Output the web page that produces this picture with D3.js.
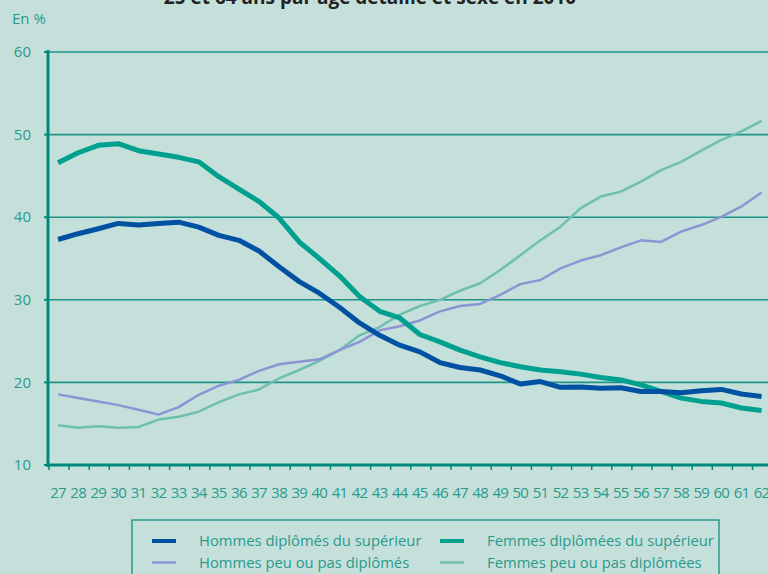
<!DOCTYPE html>
<html>
<head>
<meta charset="utf-8">
<script src="https://cdn.jsdelivr.net/npm/d3@7"></script>
<style>
  body { margin: 0; background: #c5e0db; }
  svg { display: block; font-family: "Open Sans", "DejaVu Sans", sans-serif; }
</style>
</head>
<body>
<svg id="plotSvg"></svg>
<script>
var ages = d3.range(27, 63);

var hommesSup = [37.3, 38.0, 38.6, 39.25, 39.05, 39.25, 39.4, 38.8, 37.8, 37.2, 35.9, 34.0,
  32.2, 30.8, 29.1, 27.2, 25.7, 24.5, 23.7, 22.4, 21.8, 21.5, 20.8, 19.8, 20.1, 19.4,
  19.45, 19.3, 19.35, 18.9, 18.9, 18.75, 19.0, 19.15, 18.6, 18.3];
var femmesSup = [46.6, 47.8, 48.7, 48.9, 48.05, 47.65, 47.25, 46.7, 44.9, 43.4, 41.9, 39.9,
  37.0, 35.0, 32.9, 30.4, 28.6, 27.8, 25.8, 24.9, 23.9, 23.1, 22.4, 21.9, 21.5, 21.3,
  21.0, 20.6, 20.3, 19.7, 18.9, 18.1, 17.7, 17.5, 16.9, 16.6];
var hommesPeu = [18.55, 18.1, 17.7, 17.25, 16.7, 16.1, 17.0, 18.5, 19.6, 20.3, 21.4, 22.2,
  22.5, 22.8, 23.9, 24.9, 26.3, 26.8, 27.5, 28.6, 29.25, 29.5, 30.6, 31.9, 32.4, 33.8,
  34.75, 35.4, 36.35, 37.2, 37.0, 38.25, 39.05, 40.05, 41.3, 43.0];
var femmesPeu = [14.8, 14.5, 14.7, 14.5, 14.6, 15.5, 15.85, 16.45, 17.6, 18.55, 19.15, 20.5,
  21.5, 22.6, 23.9, 25.7, 26.7, 28.2, 29.25, 30.0, 31.1, 32.0, 33.6, 35.4, 37.2, 38.85,
  41.1, 42.5, 43.1, 44.3, 45.7, 46.7, 48.05, 49.35, 50.4, 51.65];

var yTicks = [10, 20, 30, 40, 50, 60];
var title = "25 et 64 ans par âge détaillé et sexe en 2010";

var series = [
  { name: "Femmes peu ou pas diplômées", values: femmesPeu, color: "#6fbfb1", w: 2.5 },
  { name: "Hommes peu ou pas diplômés", values: hommesPeu, color: "#8c95d3", w: 2.5 },
  { name: "Femmes diplômées du supérieur", values: femmesSup, color: "#00a08f", w: 5 },
  { name: "Hommes diplômés du supérieur", values: hommesSup, color: "#0051a2", w: 5 }
];

var width = 768, height = 574;
var svg = d3.select("#plotSvg").attr("width", width).attr("height", height);
var textColor = "#2a9a8a";
var axisColor = "#00897a";

// title, cut by the top edge as in the original
svg.append("text")
  .attr("x", 370).attr("y", 4)
  .attr("text-anchor", "middle")
  .attr("font-size", 19).attr("font-weight", "bold")
  .attr("fill", "#222")
  .text(title);

svg.append("text")
  .attr("x", 12).attr("y", 24)
  .attr("font-size", 15).attr("fill", textColor)
  .text("En %");

var x = d3.scaleBand().domain(ages).range([48, 48 + 36 * 20.1]);
var y = d3.scaleLinear().domain([10, 60]).range([465, 52]);

// grid lines
svg.append("g").selectAll("line")
  .data(yTicks.slice(1))
  .enter().append("line")
  .attr("x1", 48).attr("x2", width)
  .attr("y1", function(d) { return y(d); })
  .attr("y2", function(d) { return y(d); })
  .attr("stroke", "#1f9484").attr("stroke-width", 1.6);

// y labels and tick marks
var yg = svg.append("g");
yg.selectAll("text").data(yTicks).enter().append("text")
  .attr("x", 31).attr("y", function(d) { return y(d); })
  .attr("dy", "0.35em").attr("text-anchor", "end")
  .attr("font-size", 15).attr("fill", textColor)
  .text(function(d) { return d; });
yg.selectAll("line").data(yTicks).enter().append("line")
  .attr("x1", 44).attr("x2", 48)
  .attr("y1", function(d) { return y(d); })
  .attr("y2", function(d) { return y(d); })
  .attr("stroke", axisColor).attr("stroke-width", 2);

// x axis
var xg = svg.append("g");
xg.selectAll("line.tk").data(ages).enter().append("line")
  .attr("class", "tk")
  .attr("x1", function(d) { return x(d) + 1; })
  .attr("x2", function(d) { return x(d) + 1; })
  .attr("y1", 465).attr("y2", 470)
  .attr("stroke", axisColor).attr("stroke-width", 1.5);
xg.selectAll("text").data(ages).enter().append("text")
  .attr("x", function(d) { return x(d) + x.bandwidth() / 2; })
  .attr("y", 498)
  .attr("text-anchor", "middle")
  .attr("font-size", 15).attr("letter-spacing", -0.8).attr("fill", textColor)
  .text(function(d) { return d; });

svg.append("line")
  .attr("x1", 46).attr("x2", width)
  .attr("y1", 465).attr("y2", 465)
  .attr("stroke", axisColor).attr("stroke-width", 3);
svg.append("line")
  .attr("x1", 48).attr("x2", 48)
  .attr("y1", 50).attr("y2", 467)
  .attr("stroke", axisColor).attr("stroke-width", 3);

var line = d3.line()
  .x(function(d, i) { return x(ages[i]) + x.bandwidth() / 2; })
  .y(function(d) { return y(d); });

svg.append("g").selectAll("path")
  .data(series)
  .enter().append("path")
  .attr("d", function(d) { return line(d.values); })
  .attr("fill", "none")
  .attr("stroke", function(d) { return d.color; })
  .attr("stroke-width", function(d) { return d.w; })
  .attr("stroke-linejoin", "round");

// legend
svg.append("rect")
  .attr("x", 132).attr("y", 520)
  .attr("width", 587).attr("height", 70)
  .attr("fill", "none")
  .attr("stroke", axisColor).attr("stroke-width", 1.2);

var legendItems = [series[3], series[2], series[1], series[0]];
var legend = svg.append("g").selectAll("g")
  .data(legendItems)
  .enter().append("g")
  .attr("transform", function(d, i) {
    return "translate(" + (i % 2 === 0 ? 152 : 440) + "," + (i < 2 ? 541 : 562.5) + ")";
  });
legend.append("line")
  .attr("x1", 0).attr("x2", 24)
  .attr("stroke", function(d) { return d.color; })
  .attr("stroke-width", function(d) { return d.w > 3 ? 4 : 2.5; });
legend.append("text")
  .attr("x", 47).attr("dy", "0.35em")
  .attr("font-size", 14.8).attr("fill", textColor)
  .text(function(d) { return d.name; });
</script>
</body>
</html>
